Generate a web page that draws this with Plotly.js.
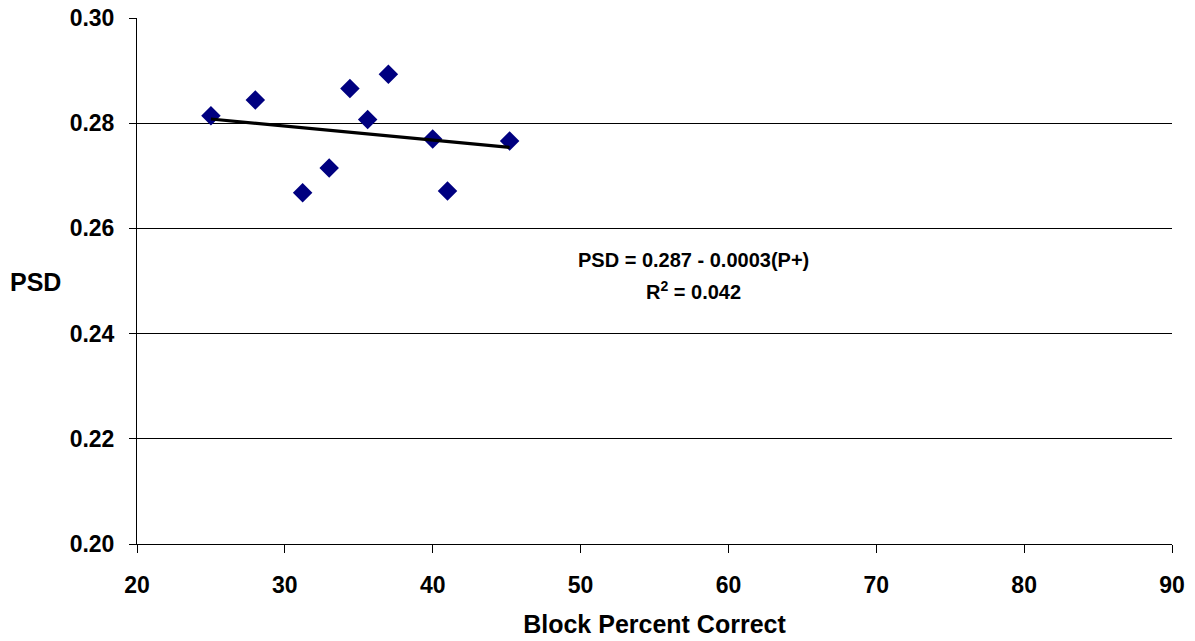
<!DOCTYPE html>
<html>
<head>
<meta charset="utf-8">
<script src="https://cdn.plot.ly/plotly-3.0.1.min.js"></script>
<style>html,body{margin:0;padding:0;background:#fff;}#chart{width:1195px;height:641px;}</style>
</head>
<body>
<div id="chart"></div>
<script>
var blockPercent = [25.0, 28.0, 31.2, 33.0, 34.4, 35.6, 37.0, 40.0, 41.0, 45.2];
var psd = [0.2814, 0.2844, 0.2668, 0.2715, 0.2866, 0.2807, 0.2893, 0.2770, 0.2671, 0.2766];
var trendX = [25.0, 45.2];
var trendY = [0.2808, 0.2754];
var xTicks = [20, 30, 40, 50, 60, 70, 80, 90];
var yTicks = [0.20, 0.22, 0.24, 0.26, 0.28, 0.30];
var equationLine = 'PSD = 0.287 - 0.0003(P+)';
var rSquaredLine = 'R<sup>2</sup> = 0.042';

var font = {family: 'Liberation Sans, Arial, sans-serif', color: '#000'};

var traces = [
  {x: blockPercent, y: psd, mode: 'markers', type: 'scatter',
   marker: {symbol: 'diamond', size: 15, color: '#000080', line: {width: 0}}, hoverinfo: 'skip'},
  {x: trendX, y: trendY, mode: 'lines', type: 'scatter',
   line: {color: '#000', width: 3.2}, hoverinfo: 'skip'}
];

var layout = {
  width: 1195, height: 641,
  margin: {l: 137, r: 23, t: 18, b: 97},
  paper_bgcolor: '#fff', plot_bgcolor: '#fff',
  showlegend: false,
  font: font,
  xaxis: {
    range: [20, 90], tickvals: xTicks, ticktext: xTicks.map(function(v){return '<b>' + v + '</b>';}),
    showgrid: false, zeroline: false,
    showline: true, linecolor: '#000', linewidth: 1,
    ticks: 'outside', ticklen: 8, tickcolor: '#000', tickwidth: 1,
    ticklabelstandoff: 12,
    tickfont: {family: font.family, size: 23, color: '#000'},
    title: {text: '<b>Block Percent Correct</b>', font: {family: font.family, size: 25, color: '#000'}, standoff: 18}
  },
  yaxis: {
    range: [0.20, 0.30], tickvals: yTicks, ticktext: yTicks.map(function(v){return '<b>' + v.toFixed(2) + '</b>';}),
    showgrid: true, gridcolor: '#000', gridwidth: 1, zeroline: false,
    showline: true, linecolor: '#000', linewidth: 1,
    ticks: 'outside', ticklen: 7, tickcolor: '#000', tickwidth: 1,
    ticklabelstandoff: 10,
    tickfont: {family: font.family, size: 23, color: '#000'}
  },
  annotations: [
    {xref: 'paper', yref: 'paper', x: -0.0976, y: 0.499, xanchor: 'center', yanchor: 'middle',
     text: '<b>PSD</b>', showarrow: false, font: {family: font.family, size: 25, color: '#000'}},
    {xref: 'x', yref: 'y', x: 57.67, y: 0.2540, xanchor: 'center', yanchor: 'middle',
     text: '<b>' + equationLine + '</b>', showarrow: false, align: 'center',
     font: {family: font.family, size: 20, color: '#000'}},
    {xref: 'x', yref: 'y', x: 57.67, y: 0.2481, xanchor: 'center', yanchor: 'middle',
     text: '<b>' + rSquaredLine + '</b>', showarrow: false, align: 'center',
     font: {family: font.family, size: 20, color: '#000'}}
  ]
};

Plotly.newPlot('chart', traces, layout, {staticPlot: true, displayModeBar: false});
</script>
</body>
</html>
